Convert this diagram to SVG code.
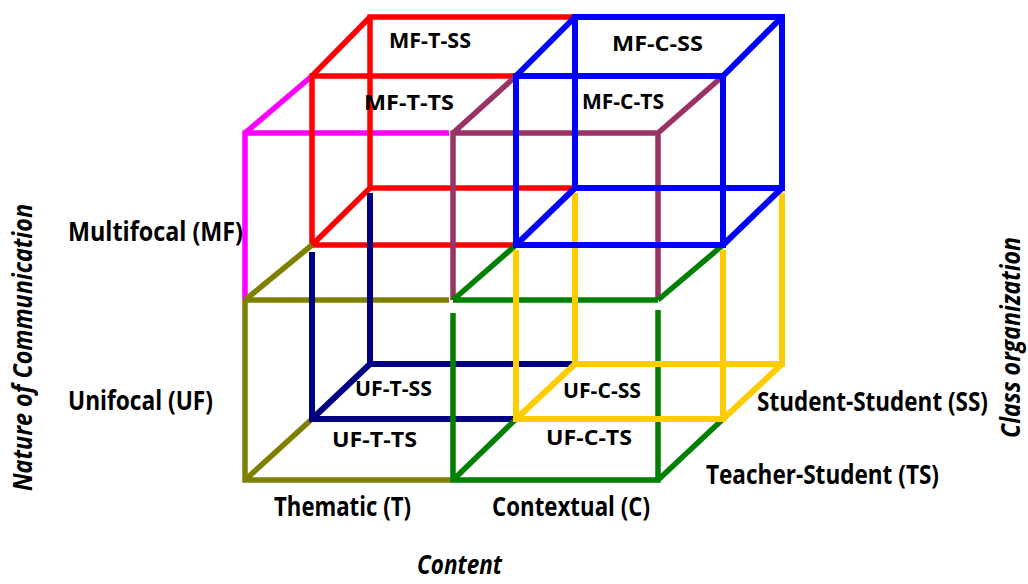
<svg xmlns="http://www.w3.org/2000/svg" width="1028" height="584" viewBox="0 0 1028 584">
<style>
.e{fill:none;stroke-linecap:butt;stroke-linejoin:miter}
.red{stroke:#FF0000;stroke-width:5.5}
.blue{stroke:#0000FF;stroke-width:6}
.mag{stroke:#FF00FF;stroke-width:5.5}
.mar{stroke:#993366;stroke-width:5.5}
.oli{stroke:#808000;stroke-width:5.5}
.nav{stroke:#000080;stroke-width:6}
.grn{stroke:#008000;stroke-width:5.5}
.yel{stroke:#FFCC00;stroke-width:6}
text{font-family:"Open Sans","Liberation Sans",sans-serif;font-weight:700;fill:#000}
.cl{font-size:22px}
.al{font-size:26px}
.at{font-size:26px;font-style:italic}
</style>
<rect width="1028" height="584" fill="#FFFFFF"/>
<g id="connectors"/>
<g id="cube-MF-T-TS" class="e mag">
<path d="M245,300 V133 H449 M245,133 L312,76"/>
</g>
<g id="cube-MF-T-SS" class="e red">
<path d="M312,245 V76 H516 M370,188 V17 H575 M312,76 L370,17 M312,245 L370,188 M312,245 H516 M370,188 H575"/>
</g>
<g id="cube-MF-C-TS" class="e mar">
<path d="M453,300 V133 H658 V300 M453,133 L516,76 M658,133 L723,76"/>
</g>
<g id="cube-UF-T-TS" class="e oli">
<path d="M245,300 V480 H451 M245,300 H449 M245,300 L312,245 M245,480 L312,419"/>
</g>
<g id="cube-UF-T-SS" class="e nav">
<path d="M312,252 V419 H516 M370,193 V364 H575 M312,419 L370,364"/>
</g>
<g id="cube-UF-C-TS" class="e grn">
<path d="M453,313 V480 H658 V310 M453,300 H658 M453,300 L516,245 M658,300 L723,245 M453,480 L516,419 M658,480 L723,419"/>
</g>
<g id="cube-UF-C-SS" class="e yel">
<path d="M516,250 V419 H723 V250 M575,193 V364 H782 V193 M516,419 L575,364 M723,419 L782,364"/>
</g>
<g id="cube-MF-C-SS" class="e blue">
<path d="M516,76 H723 V245 H516 Z M575,17 H782 V188 H575 Z M516,76 L575,17 M723,76 L782,17 M516,245 L575,188 M723,245 L782,188"/>
</g>
<g id="labels">
<text id="t-MF-T-SS" class="cl" x="389" y="48" textLength="82" lengthAdjust="spacingAndGlyphs">MF-T-SS</text>
<text id="t-MF-T-TS" class="cl" x="364" y="110" textLength="90" lengthAdjust="spacingAndGlyphs">MF-T-TS</text>
<text id="t-MF-C-SS" class="cl" x="612" y="51" textLength="91" lengthAdjust="spacingAndGlyphs">MF-C-SS</text>
<text id="t-MF-C-TS" class="cl" x="582" y="109" textLength="82" lengthAdjust="spacingAndGlyphs">MF-C-TS</text>
<text id="t-UF-T-SS" class="cl" x="355" y="396" textLength="77" lengthAdjust="spacingAndGlyphs">UF-T-SS</text>
<text id="t-UF-T-TS" class="cl" x="332" y="447" textLength="85" lengthAdjust="spacingAndGlyphs">UF-T-TS</text>
<text id="t-UF-C-SS" class="cl" x="563" y="398" textLength="78" lengthAdjust="spacingAndGlyphs">UF-C-SS</text>
<text id="t-UF-C-TS" class="cl" x="546" y="445" textLength="86" lengthAdjust="spacingAndGlyphs">UF-C-TS</text>
</g>
<g id="axis-nature">
<text class="al" x="68" y="241" textLength="175" lengthAdjust="spacingAndGlyphs">Multifocal (MF)</text>
<text class="al" x="68" y="410" textLength="145" lengthAdjust="spacingAndGlyphs">Unifocal (UF)</text>
<text class="at" transform="translate(32,491) rotate(-90)" x="0" y="0" textLength="287" lengthAdjust="spacingAndGlyphs">Nature of Communication</text>
</g>
<g id="axis-class">
<text class="al" x="757" y="411" textLength="231" lengthAdjust="spacingAndGlyphs">Student-Student (SS)</text>
<text class="al" x="706" y="484" textLength="233" lengthAdjust="spacingAndGlyphs">Teacher-Student (TS)</text>
<text class="at" transform="translate(1020,438) rotate(-90)" x="0" y="0" textLength="201" lengthAdjust="spacingAndGlyphs">Class organization</text>
</g>
<g id="axis-content">
<text class="al" x="274" y="516" textLength="137" lengthAdjust="spacingAndGlyphs">Thematic (T)</text>
<text class="al" x="492" y="516" textLength="158" lengthAdjust="spacingAndGlyphs">Contextual (C)</text>
<text class="at" x="417" y="574" textLength="85" lengthAdjust="spacingAndGlyphs">Content</text>
</g>
</svg>
